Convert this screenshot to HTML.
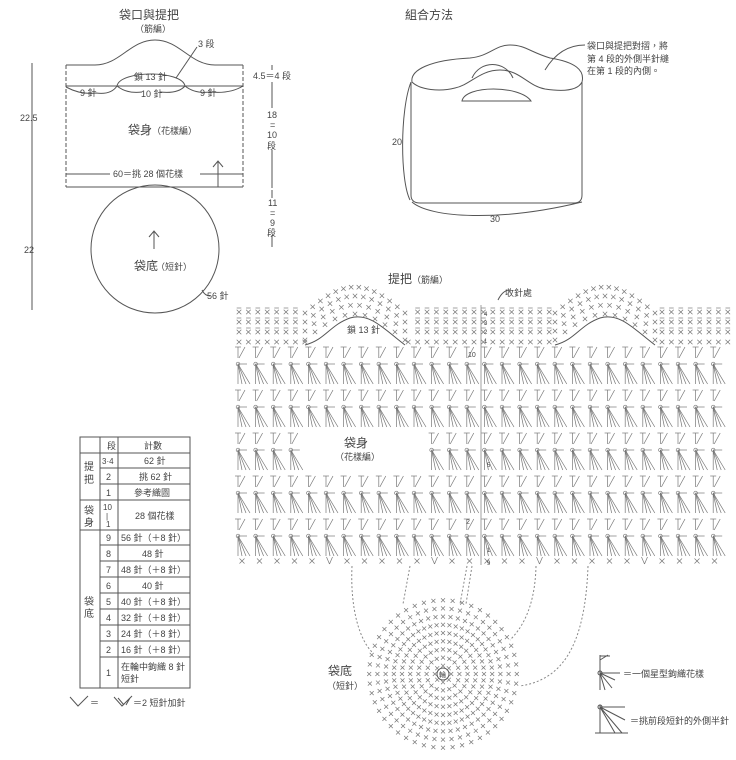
<!DOCTYPE html>
<html><head><meta charset="utf-8"><style>
html,body{margin:0;padding:0;background:#fff;}
svg{display:block;font-family:"Liberation Sans","Noto Sans CJK TC",sans-serif;}
text{fill:#444;}
</style></head><body>
<svg id="s" width="736" height="760" viewBox="0 0 736 760" xmlns="http://www.w3.org/2000/svg">
<g stroke="#555" stroke-width="1" fill="none">
<path d="M66 65 H95 C120 65 130 40 155 40 C180 40 190 65 215 65 H243"/>
<path d="M117 86 C120 70 182 70 185 86"/>
<line x1="66" y1="86" x2="243" y2="86"/>
<line x1="66" y1="65" x2="66" y2="187" stroke-dasharray="4,2"/>
<line x1="243" y1="65" x2="243" y2="187" stroke-dasharray="4,2"/>
<line x1="66" y1="187" x2="243" y2="187"/>
<path d="M66 87 q15 8 30 6 M96 93 q15 2 21 -7 M117 86 q10 8 25 6 M160 92 q18 2 25 -6 M185 86 q10 8 25 6 M210 92 q20 2 33 -6"/>
<line x1="66" y1="174" x2="110" y2="174"/><line x1="200" y1="174" x2="243" y2="174"/>
<line x1="218" y1="187" x2="218" y2="162"/><path d="M213 167 L218 161 L223 167"/>
<line x1="154" y1="249" x2="154" y2="232"/><path d="M149 237 L154 231 L159 237"/>
<circle cx="155" cy="249" r="64"/>
<path d="M202 290 q3 6 8 6"/>
<path d="M176 78 L197 47"/>
<line x1="32" y1="63" x2="32" y2="310"/>
<line x1="272" y1="65" x2="272" y2="70"/><line x1="272" y1="82" x2="272" y2="108"/><line x1="272" y1="150" x2="272" y2="188"/><line x1="272" y1="190" x2="272" y2="198"/><line x1="272" y1="235" x2="272" y2="247"/>
<path d="M412 82 C410 70 430 60 470 58 C490 56 495 45 510 45 C525 45 530 52 550 58 C575 62 585 70 582 82"/>
<path d="M412 82 C420 90 440 92 455 88 C470 85 480 70 500 70 C520 70 528 86 545 89 C565 92 578 90 582 82"/>
<path d="M472 78 C480 60 505 60 513 78"/>
<path d="M462 101 C465 85 520 85 531 101 Z"/>
<path d="M411 82 V195 Q411 203 420 203 H574 Q582 203 582 195 V82"/>
<path d="M411 82 C400 110 400 180 410 200"/>
<path d="M412 202 C430 218 500 222 582 202"/>
<path d="M545 70 Q560 45 585 45"/>
<rect x="80" y="437" width="110" height="251"/>
<line x1="100" y1="437" x2="100" y2="688"/><line x1="118" y1="437" x2="118" y2="688"/>
<line x1="80" y1="453" x2="190" y2="453"/><line x1="100" y1="468" x2="190" y2="468"/><line x1="100" y1="484" x2="190" y2="484"/>
<line x1="80" y1="500" x2="190" y2="500"/><line x1="80" y1="530" x2="190" y2="530"/>
<line x1="100" y1="545" x2="190" y2="545"/><line x1="100" y1="561" x2="190" y2="561"/><line x1="100" y1="577" x2="190" y2="577"/><line x1="100" y1="593" x2="190" y2="593"/><line x1="100" y1="609" x2="190" y2="609"/><line x1="100" y1="625" x2="190" y2="625"/><line x1="100" y1="641" x2="190" y2="641"/><line x1="100" y1="657" x2="190" y2="657"/>
<path d="M70 697 L78 706 L88 696 M114 697 L122 706 L132 696 M118 698 L124 705 M126 705 L130 698"/>
<path d="M305 345 C325 340 330 325 350 318 C370 312 385 330 405 345" />
<path d="M555 345 C575 340 580 325 600 318 C620 312 635 330 655 345"/>
<path d="M498 300 q5 -10 12 -10"/>
<g stroke-dasharray="2,2" stroke="#888">
<path d="M352 566 C350 610 360 640 372 652"/>
<path d="M410 566 L403 604"/>
<path d="M467 566 L460 604 M472 566 L466 604"/>
<path d="M536 566 C535 610 520 630 510 640"/>
<path d="M588 566 C585 650 560 680 520 686"/>
</g>
<circle cx="443" cy="674" r="6"/>
<path d="M600 655 V690 M600 656 H610 M600 660 L608 655 M600 673 H620 M600 673 L612 688 M600 673 L605 690 M600 673 L615 680"/>
<circle cx="600" cy="673" r="2"/>
<path d="M600 705 V733 M600 707 H625 M600 707 L622 733 M600 707 L615 733 M600 707 L625 720 M595 733 H628"/>
<circle cx="600" cy="707" r="2"/>
</g>
<g id="chart" stroke="#777" stroke-width="0.7" fill="none"></g>
<g font-size="11">
<text x="119" y="19" font-size="12">袋口與提把</text>
<text x="135" y="32" font-size="9">（筋編）</text>
<text x="198" y="47" font-size="9">3 段</text>
<text x="134" y="80" font-size="9">鎖 13 針</text>
<text x="80" y="96" font-size="9">9 針</text><text x="141" y="97" font-size="9">10 針</text><text x="200" y="96" font-size="9">9 針</text>
<text x="128" y="134" font-size="12">袋身</text><text x="152" y="134" font-size="9">（花樣編）</text>
<text x="113" y="177" font-size="9">60＝挑 28 個花樣</text>
<text x="134" y="270" font-size="12">袋底</text><text x="156" y="270" font-size="9">（短針）</text>
<text x="207" y="299" font-size="9">56 針</text>
<text x="20" y="121" font-size="9">22.5</text>
<text x="24" y="253" font-size="9">22</text>
<text x="253" y="79" font-size="9">4.5＝4 段</text>
<text x="267" y="118" font-size="9">18</text><text x="270" y="128" font-size="9">=</text><text x="267" y="138" font-size="9">10</text><text x="267" y="149" font-size="9">段</text>
<text x="268" y="206" font-size="9">11</text><text x="270" y="216" font-size="9">=</text><text x="270" y="226" font-size="9">9</text><text x="267" y="236" font-size="9">段</text>
<text x="405" y="19" font-size="12">組合方法</text>
<text x="587" y="49" font-size="9">袋口與提把對摺，將</text>
<text x="587" y="62" font-size="9">第 4 段的外側半針縫</text>
<text x="587" y="74" font-size="9">在第 1 段的內側。</text>
<text x="392" y="145" font-size="9">20</text>
<text x="490" y="222" font-size="9">30</text>
<text x="388" y="283" font-size="12">提把</text><text x="412" y="283" font-size="9">（筋編）</text>
<text x="505" y="296" font-size="9">收針處</text>
<text x="347" y="333" font-size="9">鎖 13 針</text>
<text x="344" y="447" font-size="12">袋身</text><text x="335" y="460" font-size="9">（花樣編）</text>
<text x="328" y="675" font-size="12">袋底</text><text x="327" y="689" font-size="9">（短針）</text>
<text x="439" y="677" font-size="7">輪</text>
<text x="623" y="677" font-size="9">＝一個星型鉤織花樣</text>
<text x="630" y="724" font-size="9">＝挑前段短針的外側半針</text>
<text x="107" y="449" font-size="9">段</text><text x="144" y="449" font-size="9">計數</text>
<text x="102" y="464" font-size="8">3·4</text><text x="144" y="464" font-size="9">62 針</text>
<text x="106" y="480" font-size="9">2</text><text x="139" y="480" font-size="9">挑 62 針</text>
<text x="106" y="496" font-size="9">1</text><text x="134" y="496" font-size="9">參考織圖</text>
<text x="84" y="470" font-size="10">提</text><text x="84" y="483" font-size="10">把</text>
<text x="84" y="514" font-size="10">袋</text><text x="84" y="526" font-size="10">身</text>
<text x="103" y="510" font-size="8">10</text><text x="106" y="519" font-size="8">|</text><text x="106" y="527" font-size="8">1</text>
<text x="135" y="519" font-size="9">28 個花樣</text>
<text x="84" y="605" font-size="10">袋</text><text x="84" y="617" font-size="10">底</text>
<text x="106" y="541" font-size="9">9</text><text x="121" y="541" font-size="9">56 針（＋8 針）</text>
<text x="106" y="557" font-size="9">8</text><text x="142" y="557" font-size="9">48 針</text>
<text x="106" y="573" font-size="9">7</text><text x="121" y="573" font-size="9">48 針（＋8 針）</text>
<text x="106" y="589" font-size="9">6</text><text x="142" y="589" font-size="9">40 針</text>
<text x="106" y="605" font-size="9">5</text><text x="121" y="605" font-size="9">40 針（＋8 針）</text>
<text x="106" y="621" font-size="9">4</text><text x="121" y="621" font-size="9">32 針（＋8 針）</text>
<text x="106" y="637" font-size="9">3</text><text x="121" y="637" font-size="9">24 針（＋8 針）</text>
<text x="106" y="653" font-size="9">2</text><text x="121" y="653" font-size="9">16 針（＋8 針）</text>
<text x="106" y="676" font-size="9">1</text><text x="121" y="670" font-size="9">在輪中鉤織 8 針</text><text x="121" y="682" font-size="9">短針</text>
<text x="90" y="706" font-size="9">＝</text><text x="133" y="706" font-size="9">＝2 短針加針</text>
<text x="484" y="316" font-size="6">4</text><text x="484" y="325" font-size="6">3</text><text x="484" y="334" font-size="6">2</text><text x="484" y="343" font-size="6">1</text>
<text x="468" y="357" font-size="7">10</text>
<text x="487" y="467" font-size="6">5</text><text x="466" y="524" font-size="7">2</text>
<text x="487" y="552" font-size="6">1</text><text x="487" y="565" font-size="6">9</text>
</g>
</svg>
<script>
var NS="http://www.w3.org/2000/svg",c=document.getElementById('chart');
function L(x1,y1,x2,y2){var e=document.createElementNS(NS,'line');e.setAttribute('x1',x1);e.setAttribute('y1',y1);e.setAttribute('x2',x2);e.setAttribute('y2',y2);c.appendChild(e);}
function C(x,y,r){var e=document.createElementNS(NS,'circle');e.setAttribute('cx',x);e.setAttribute('cy',y);e.setAttribute('r',r);c.appendChild(e);}
function X(x,y,s){s=s||3;L(x-s,y-s,x+s,y+s);L(x-s,y+s,x+s,y-s);}
var step=17.6;
var tRows=[347,390,433,476,519],sRows=[364,407,450,493,536];
for(var i=0;i<28;i++){var x=238+i*step;
 tRows.forEach(function(y,ri){ if(ri==2&&x>300&&x<420)return; L(x,y,x,y+11);L(x-3,y,x+3,y);L(x+1,y+11,x+7,y);});
 sRows.forEach(function(y,ri){ if(ri==2&&x>300&&x<420)return; C(x,y,1.8);L(x,y,x,y+20);L(x,y,x+9,y);L(x,y,x+12,y+20);L(x,y,x+8,y+20);L(x,y,x+4,y+20);});
}
for(var r=0;r<4;r++){var y=312+r*10;
 for(var x=239;x<728;x+=9.4){ if(r<3 && ((x>300&&x<410)||(x>550&&x<660)))continue; if(r==3&&((x>306&&x<405)||(x>556&&x<655)))continue; X(x,y,2.3); if(r<3)L(x-2.3,y-4,x+2.3,y-4);}
}
[355,605].forEach(function(cx){for(var r=0;r<4;r++){var n=10+r;for(var j=0;j<=n;j++){var t=j/n;var x=cx-50+t*100;var y=(340-r*9)-Math.sin(t*Math.PI)*26;X(x,y,2.2);}}});
for(var k=0;k<28;k++){var x=242+k*17.5; if(k%6==5){L(x-3,557,x,564);L(x,564,x+3,557);} else X(x,561,2.5);}
L(481,305,481,565);
for(var r=1;r<=9;r++){var R=r*8.2,n=8*Math.min(r,6);for(var j=0;j<n;j++){var a=j/n*2*Math.PI;X(443+Math.cos(a)*R,674+Math.sin(a)*R,2);}}
</script>
</body></html>
